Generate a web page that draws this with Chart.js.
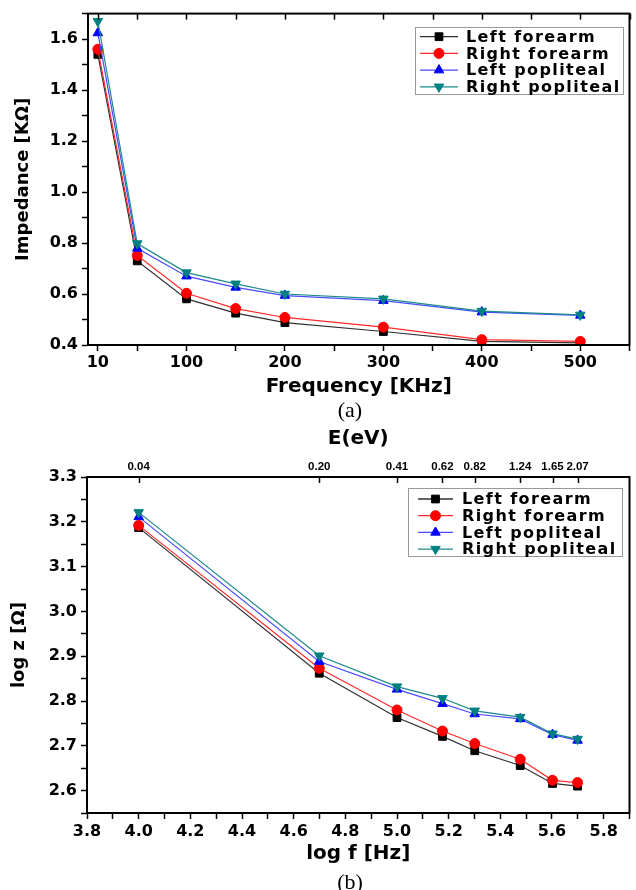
<!DOCTYPE html>
<html lang="en">
<head>
<meta charset="UTF-8">
<title>Impedance vs frequency</title>
<script src="https://cdn.jsdelivr.net/npm/chart.js"></script>
<style>
  body { margin: 0; background: #fff; }
  .page { position: relative; width: 636px; height: 890px; overflow: hidden; }
  canvas { position: absolute; left: 0; }
  #chartA { top: 0; }
  #chartB { top: 420px; }
  .caption { position: absolute; left: 300px; width: 100px; text-align: center;
             font: 22px "Liberation Serif", "DejaVu Serif", serif; line-height: 24px; }
</style>
</head>
<body>
<div class="page">
  <canvas id="chartA" width="636" height="400"></canvas>
  <div class="caption" style="top:398px">(a)</div>
  <canvas id="chartB" width="636" height="450"></canvas>
  <div class="caption" style="top:870px">(b)</div>
</div>
<script>
// (a) impedance vs frequency
const freqKHz = [10, 50, 100, 150, 200, 300, 400, 500];
const leftForearmA   = [1.540, 0.730, 0.581, 0.525, 0.488, 0.453, 0.414, 0.408];
const rightForearmA  = [1.560, 0.751, 0.603, 0.543, 0.508, 0.470, 0.421, 0.414];
const leftPoplitealA = [1.624, 0.779, 0.670, 0.626, 0.594, 0.574, 0.529, 0.516];
const rightPoplitealA= [1.670, 0.798, 0.684, 0.640, 0.600, 0.581, 0.533, 0.518];

// (b) log z vs log f
const logF = [4.0, 4.699, 5.0, 5.176, 5.301, 5.477, 5.602, 5.699];
const energyLabels = ['0.04', '0.20', '0.41', '0.62', '0.82', '1.24', '1.65', '2.07'];
const leftForearmB   = [3.187, 2.862, 2.763, 2.721, 2.689, 2.656, 2.616, 2.610];
const rightForearmB  = [3.192, 2.873, 2.780, 2.733, 2.705, 2.670, 2.623, 2.618];
const leftPoplitealB = [3.211, 2.888, 2.826, 2.794, 2.771, 2.760, 2.725, 2.712];
const rightPoplitealB= [3.221, 2.901, 2.832, 2.806, 2.778, 2.764, 2.727, 2.715];

const seriesNames = ['Left forearm', 'Right forearm', 'Left popliteal', 'Right popliteal'];

Chart.defaults.font.family = 'DejaVu Sans';
Chart.defaults.font.weight = 'bold';
Chart.defaults.color = '#000';

const styles = [
  {borderColor: '#303030', pointBackgroundColor: '#000', pointBorderColor: '#000', pointStyle: 'rect', pointRadius: 5.5, order: 4},
  {borderColor: '#ff2a2a', pointBackgroundColor: '#ff0000', pointBorderColor: '#ff0000', pointStyle: 'circle', pointRadius: 5, order: 3},
  {borderColor: '#4a4aff', pointBackgroundColor: '#0000ff', pointBorderColor: '#0000ff', pointStyle: 'triangle', pointRadius: 5.5, order: 2},
  {borderColor: '#1a8a8a', pointBackgroundColor: '#008080', pointBorderColor: '#008080', pointStyle: 'triangle', pointRotation: 180, pointRadius: 5.5, order: 1}
];

function makeDatasets(xs, lists) {
  return lists.map((ys, i) => Object.assign({
    label: seriesNames[i],
    data: xs.map((x, j) => ({x: x, y: ys[j]})),
    borderWidth: 1.2,
    pointBorderWidth: 1,
    tension: 0
  }, styles[i]));
}

function marker(ctx, ds, x, y) {
  ctx.fillStyle = ds.pointBackgroundColor;
  ctx.strokeStyle = ds.pointBorderColor;
  ctx.lineWidth = 1;
  Chart.helpers.drawPoint(ctx, {pointStyle: ds.pointStyle, radius: ds.pointRadius,
    rotation: ds.pointRotation || 0, borderWidth: 1}, x, y);
}

// box around the plot + inward ticks on the top edge
const framePlugin = {
  id: 'frame',
  afterDraw(chart, args, o) {
    const {ctx, chartArea: a} = chart;
    ctx.save();
    ctx.strokeStyle = '#000';
    ctx.lineWidth = 2;
    ctx.strokeRect(a.left, a.top, a.right - a.left, a.bottom - a.top);
    const s = chart.scales[o.topScale];
    ctx.lineWidth = 1.5;
    s.ticks.forEach(t => {
      const x = Math.round(s.getPixelForValue(t.value)) + 0.5;
      ctx.beginPath();
      ctx.moveTo(x, a.top);
      ctx.lineTo(x, a.top + 6);
      ctx.stroke();
    });
    ctx.restore();
  }
};

// framed legend inside the plot
const boxLegend = {
  id: 'boxLegend',
  afterDraw(chart, args, o) {
    const ctx = chart.ctx;
    ctx.save();
    ctx.fillStyle = '#fff';
    ctx.fillRect(o.x, o.y, o.w, o.h);
    ctx.strokeStyle = '#999';
    ctx.lineWidth = 1;
    ctx.strokeRect(o.x + 0.5, o.y + 0.5, o.w, o.h);
    ctx.textBaseline = 'middle';
    chart.data.datasets.forEach((ds, i) => {
      const y = o.y + o.first + i * o.row;
      ctx.strokeStyle = ds.borderColor;
      ctx.lineWidth = 1.3;
      ctx.beginPath();
      ctx.moveTo(o.x + o.line[0], y);
      ctx.lineTo(o.x + o.line[1], y);
      ctx.stroke();
      marker(ctx, ds, o.x + (o.line[0] + o.line[1]) / 2, y);
      ctx.font = 'bold 16px "DejaVu Sans"';
      ctx.letterSpacing = '1.4px';
      ctx.fillStyle = '#000';
      ctx.fillText(ds.label, o.x + o.text, y + 1);
      ctx.letterSpacing = '0px';
    });
    ctx.restore();
  }
};

const tickFont = {family: 'DejaVu Sans', weight: 'bold', size: 16};
const tickGrid = {drawOnChartArea: false, tickLength: 6, color: '#000', tickWidth: 1.5};
const axisBorder = {color: '#000', width: 2};

new Chart(document.getElementById('chartA'), {
  type: 'line',
  data: {datasets: makeDatasets(freqKHz, [leftForearmA, rightForearmA, leftPoplitealA, rightPoplitealA])},
  options: {
    responsive: false,
    animation: false,
    layout: {padding: {top: 13, right: 3, left: 0, bottom: 0}},
    plugins: {
      legend: {display: false},
      tooltip: {enabled: false},
      frame: {topScale: 'x'},
      boxLegend: {x: 415, y: 27, w: 208, h: 67, first: 9.7, row: 16.7, line: [5, 43], text: 51}
    },
    scales: {
      x: {
        type: 'linear', min: 0, max: 550,
        afterBuildTicks: s => { s.ticks = [10, 50, 100, 150, 200, 250, 300, 350, 400, 450, 500, 550].map(v => ({value: v})); },
        afterFit: s => { s.height = 55; },
        ticks: {autoSkip: false, maxRotation: 0, padding: 2, font: tickFont,
                callback: v => (v === 10 || (v % 100 === 0 && v <= 500)) ? String(v) : ''},
        grid: tickGrid,
        border: axisBorder,
        title: {display: true, text: 'Frequency [KHz]', font: {size: 20, weight: 'bold'}, padding: {top: 0, bottom: 1}}
      },
      y: {
        type: 'linear', min: 0.4, max: 1.7,
        afterBuildTicks: s => { s.ticks = Array.from({length: 14}, (_, i) => ({value: +(0.4 + 0.1 * i).toFixed(1)})); },
        afterFit: s => { s.width = 88; },
        ticks: {autoSkip: false, padding: 4, font: tickFont,
                callback: v => Math.round(v * 10) % 2 === 0 ? v.toFixed(1) : ''},
        grid: tickGrid,
        border: axisBorder,
        title: {display: true, text: 'Impedance [KΩ]', font: {size: 18, weight: 'bold'}, padding: {top: 13, bottom: 0}}
      }
    }
  },
  plugins: [framePlugin, boxLegend]
});

new Chart(document.getElementById('chartB'), {
  type: 'line',
  data: {datasets: makeDatasets(logF, [leftForearmB, rightForearmB, leftPoplitealB, rightPoplitealB])},
  options: {
    responsive: false,
    animation: false,
    layout: {padding: {top: 0, right: 2, left: 0, bottom: 0}},
    plugins: {
      legend: {display: false},
      tooltip: {enabled: false},
      frame: {topScale: 'x2'},
      boxLegend: {x: 408, y: 68, w: 214, h: 68, first: 11, row: 16.7, line: [10, 45], text: 54}
    },
    scales: {
      x: {
        type: 'linear', min: 3.8, max: 5.9,
        afterBuildTicks: s => { s.ticks = Array.from({length: 22}, (_, i) => ({value: Math.round(38 + i) / 10})); },
        afterFit: s => { s.height = 57; },
        ticks: {autoSkip: false, maxRotation: 0, padding: 3, font: tickFont,
                callback: v => (Math.round(v * 10) % 2 === 0 && v < 5.85) ? v.toFixed(1) : ''},
        grid: tickGrid,
        border: axisBorder,
        title: {display: true, text: 'log f [Hz]', font: {size: 20, weight: 'bold'}, padding: {top: 0, bottom: 4}}
      },
      x2: {
        type: 'linear', position: 'top', min: 3.8, max: 5.9,
        afterBuildTicks: s => { s.ticks = logF.map(v => ({value: v})); },
        afterFit: s => { s.height = 57; },
        ticks: {autoSkip: false, maxRotation: 0, padding: -5,
                font: {family: 'Liberation Sans', size: 11.5, weight: 'bold'},
                callback: (v, i) => energyLabels[i]},
        grid: {display: false},
        border: {display: false},
        title: {display: true, text: 'E(eV)', font: {size: 20, weight: 'bold'}, padding: {top: 7, bottom: 0}}
      },
      y: {
        type: 'linear', min: 2.55, max: 3.3,
        afterBuildTicks: s => { s.ticks = Array.from({length: 16}, (_, i) => ({value: Math.round(255 + 5 * i) / 100})); },
        afterFit: s => { s.width = 87; },
        ticks: {autoSkip: false, padding: 4, font: tickFont,
                callback: v => Math.round(v * 100) % 10 === 0 ? v.toFixed(1) : ''},
        grid: tickGrid,
        border: axisBorder,
        title: {display: true, text: 'log z [Ω]', font: {size: 18, weight: 'bold'}, padding: {top: 9, bottom: 0}}
      }
    }
  },
  plugins: [framePlugin, boxLegend]
});
</script>
</body>
</html>
